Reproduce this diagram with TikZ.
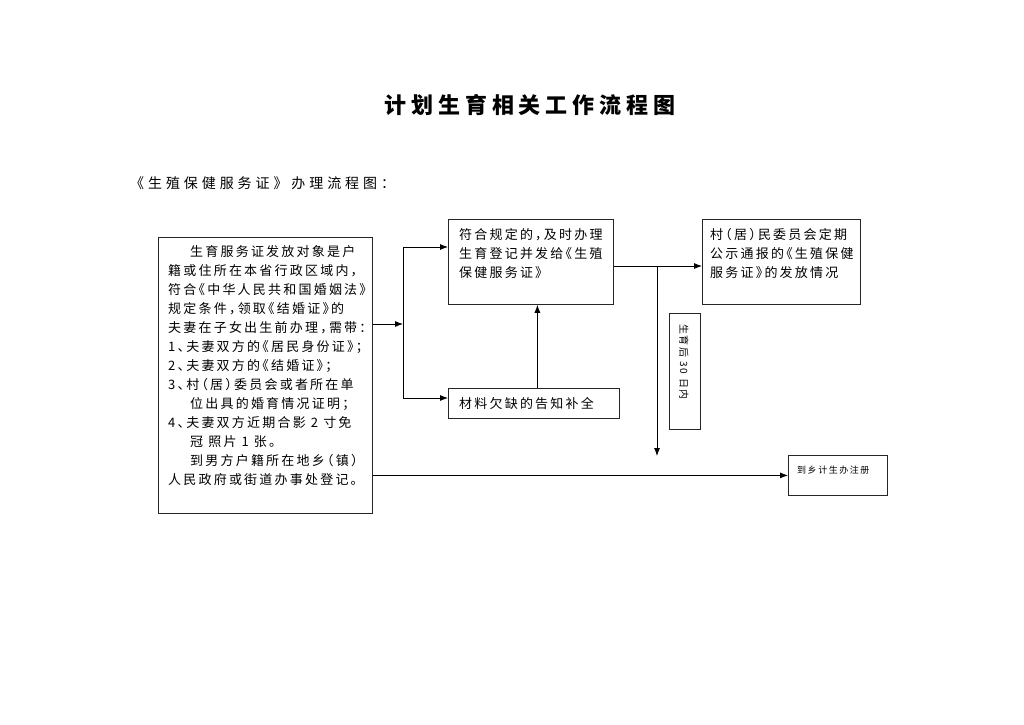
\documentclass[tikz,border=0pt]{standalone}
\usepackage{fontspec}
\newfontfamily\cjk[LetterSpace=17,CharacterWidth=AlternateHalf]{Noto Sans CJK SC}
\newfontfamily\cjkwide[LetterSpace=22]{Noto Sans CJK SC}
\newfontfamily\cjksub[LetterSpace=28]{Noto Sans CJK SC}
\usetikzlibrary{arrows.meta,positioning,calc}

\begin{document}
\begin{tikzpicture}[x=1pt,y=-1pt,
 frame/.style={draw=black!85,line width=0.8pt,anchor=north west,inner sep=0pt},
 txt/.style={anchor=north west,align=left,inner sep=0pt,font=\cjk\fontsize{13}{19}\selectfont},
 arr/.style={-{Latex[length=8pt,width=6pt]},line width=0.8pt},
 link/.style={line width=0.8pt}]
\useasboundingbox (0,0) rectangle (1024,724);
% headings
\node[font=\cjkwide\bfseries\fontsize{22}{22}\selectfont] (title) at (530,105) {计划生育相关工作流程图};
\node[anchor=west,inner sep=0pt,font=\cjksub\fontsize{14}{14}\selectfont] (subtitle) at (130,183) {《生殖保健服务证》办理流程图：};
% boxes
\node[frame,minimum width=214pt,minimum height=276pt] (apply) at (158,237) {};
\node[frame,minimum width=165pt,minimum height=85pt] (regist) at (448,219) {};
\node[frame,minimum width=158pt,minimum height=85pt] (publish) at (702,219) {};
\node[frame,minimum width=171pt,minimum height=30pt] (notice) at (448,388) {};
\node[frame,minimum width=31pt,minimum height=116pt] (due) at (669,313) {};
\node[frame,minimum width=99pt,minimum height=40pt] (register) at (788,455) {};
% texts
\node[txt] (applytext) at (168,245) {\hspace*{22pt}生育服务证发放对象是户\\
籍或住所在本省行政区域内，\\
符合《中华人民共和国婚姻法》\\
规定条件，领取《结婚证》的\\
夫妻在子女出生前办理，需带：\\
1、夫妻双方的《居民身份证》；\\
2、夫妻双方的《结婚证》；\\
3、村（居）委员会或者所在单\\
\hspace*{22pt}位出具的婚育情况证明；\\
4、夫妻双方近期合影 2 寸免\\
\hspace*{22pt}冠 照片 1 张。\\
\hspace*{22pt}到男方户籍所在地乡（镇）\\
人民政府或街道办事处登记。};
\node[txt] (registtext) at (459,228) {符合规定的，及时办理\\生育登记并发给《生殖\\保健服务证》};
\node[txt] (publishtext) at (710,228) {村（居）民委员会定期\\公示通报的《生殖保健\\服务证》的发放情况};
\node[txt,anchor=west] (noticetext) at (459,404) {材料欠缺的告知补全};
\node[inner sep=0pt,rotate=-90,font=\cjk\fontsize{10}{10}\selectfont] (duetext) at (684,362) {生育后 30 日内};
\node[txt,anchor=west,font=\cjk\fontsize{9}{9}\selectfont] (registertext) at (797,470) {到乡计生办注册};
% connectors
\coordinate (split) at (403,324);
\coordinate (splitup) at (403,247);
\coordinate (splitdn) at (403,398);
\coordinate (branch) at (657,266);
\coordinate (dueend) at (657,456);
\draw[arr] (apply.east |- split) -- (split);
\draw[link] (splitup) -- (splitdn);
\draw[arr] (splitup) -- (regist.west |- splitup);
\draw[arr] (splitdn) -- (notice.west |- splitdn);
\draw[arr] ([xshift=3.5pt]notice.north) -- ([xshift=3.5pt]notice.north |- regist.south);
\draw[arr] (regist.east |- branch) -- (publish.west |- branch);
\draw[arr] (branch) -- (dueend);
\draw[arr] (apply.east |- register.west) -- (register.west);
\end{tikzpicture}
\end{document}
